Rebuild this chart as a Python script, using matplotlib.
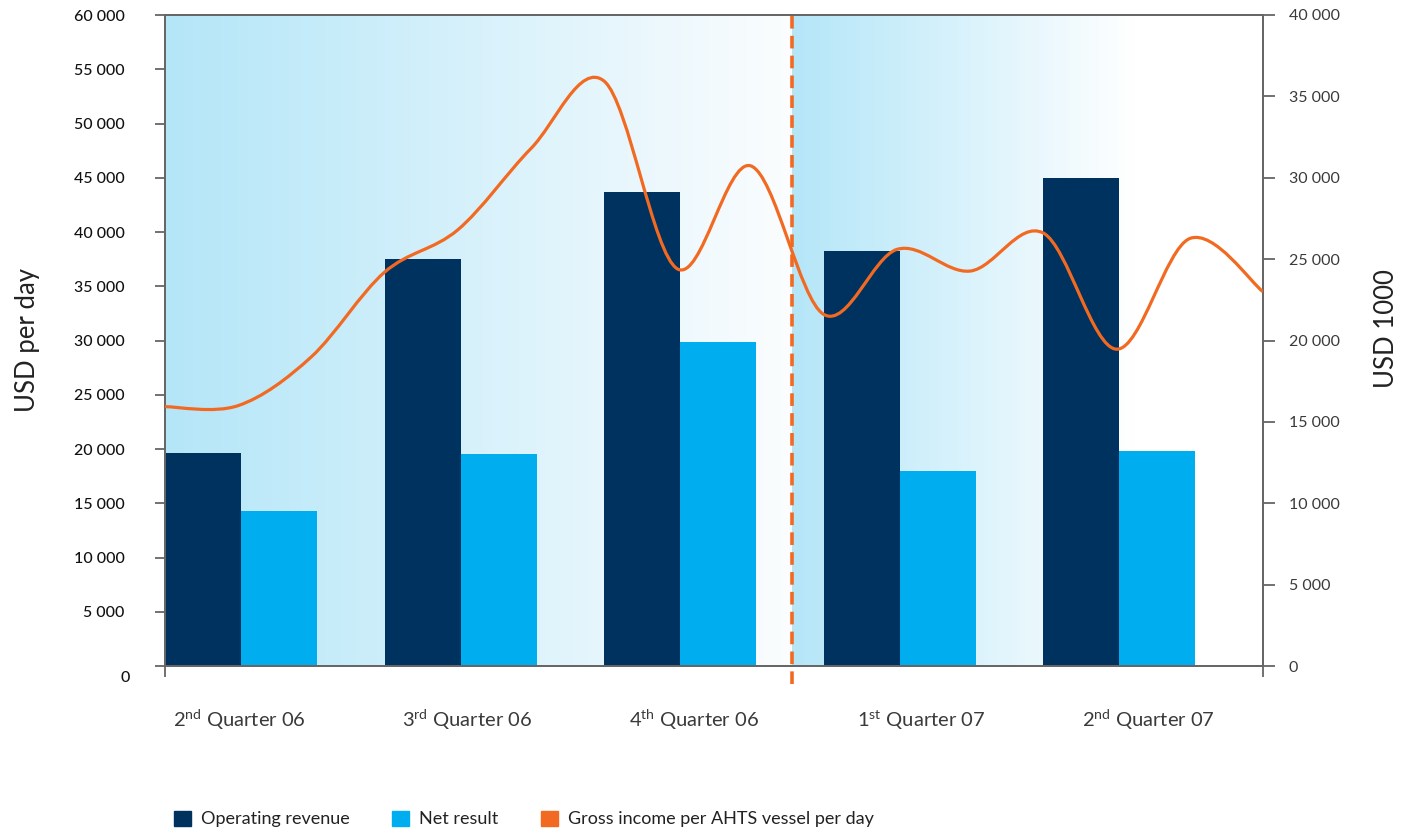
import numpy as np
import matplotlib.pyplot as plt
from matplotlib.path import Path
from matplotlib.patches import PathPatch, Patch
from matplotlib.colors import to_rgb

plt.rcParams['font.family'] = ['Lato', 'DejaVu Sans']
plt.rcParams['mathtext.fontset'] = 'custom'
plt.rcParams['mathtext.rm'] = 'Lato'

# data
quarters = [r"2$^{\mathrm{nd}}$ Quarter 06", r"3$^{\mathrm{rd}}$ Quarter 06",
            r"4$^{\mathrm{th}}$ Quarter 06", r"1$^{\mathrm{st}}$ Quarter 07",
            r"2$^{\mathrm{nd}}$ Quarter 07"]
operating_revenue = [13100, 25000, 29100, 25500, 30000]   # USD 1000
net_result = [9500, 13000, 19900, 12000, 13200]           # USD 1000
# gross income per AHTS vessel per day, monthly points (USD per day)
gross_income = [23900, 24000, 28500, 36300, 40200, 47700, 53900, 36600,
                46100, 32400, 38400, 36400, 39900, 29200, 39400, 34500]
left_ticks = list(range(0, 60001, 5000))
right_ticks = list(range(0, 40001, 5000))

navy = '#00325f'
cyan = '#00adee'
orange = '#f26a21'
pale = '#b4e6f8'

def fmt(v):
    return f"{v:,}".replace(',', ' ')

def smooth_path(xs, ys):
    # catmull-rom through the points, drawn as bezier segments
    pts = np.column_stack([xs, ys]).astype(float)
    n = len(pts)
    verts = [pts[0]]
    codes = [Path.MOVETO]
    for i in range(n - 1):
        p0 = pts[max(i - 1, 0)]
        p1 = pts[i]
        p2 = pts[i + 1]
        p3 = pts[min(i + 2, n - 1)]
        verts += [p1 + (p2 - p0) / 6, p2 - (p3 - p1) / 6, p2]
        codes += [Path.CURVE4] * 3
    return Path(verts, codes)

fig = plt.figure(figsize=(14.05, 8.34), dpi=100)
ax = fig.add_axes([165/1405, 1-666/834, 1098/1405, 651/834])  # bars, right axis
ax2 = ax.twinx()                                               # line, left axis

n = len(quarters)

# background gradients
split = 2.855
def gradient(x0, x1, c0, c1):
    t = np.linspace(0, 1, 256)
    a = np.array(to_rgb(c0)); b = np.array(to_rgb(c1))
    img = (a[None, :] * (1 - t[:, None]) + b[None, :] * t[:, None])[None, :, :]
    ax.imshow(img, extent=[x0, x1, 0, 40000], aspect='auto', zorder=0,
              interpolation='bilinear')
gradient(0, split, pale, '#fbfdfe')
gradient(split, 4.42, pale, '#ffffff')
ax.set_xlim(0, n)
ax.set_ylim(0, 40000)
ax2.set_ylim(0, 60000)

idx = np.arange(n)
w = 0.346
ax.bar(idx + w/2, operating_revenue, w, color=navy, zorder=2, linewidth=0)
ax.bar(idx + 1.5*w, net_result, w, color=cyan, zorder=2, linewidth=0)

# line on top
months = np.arange(len(gross_income)) / 3
ax2.add_patch(PathPatch(smooth_path(months, gross_income), facecolor='none',
                        edgecolor=orange, linewidth=2.3, zorder=3))
ax2.axvline(split, ymin=-0.027, ymax=1, color=orange, linewidth=2.6,
            dashes=(3.5, 2.0), clip_on=False, zorder=4)

# axes styling
ax.yaxis.tick_right()
ax2.yaxis.tick_left()
for a in (ax, ax2):
    for s in a.spines.values():
        s.set_color('#666666')
        s.set_linewidth(1.3)
ax.set_xticks([0, n])
ax.set_xticklabels([])
ax.tick_params(axis='x', direction='out', length=8, width=1.3, color='#666666')

ax.set_yticks(right_ticks)
ax.set_yticklabels([fmt(v) for v in right_ticks], fontsize=11.5,
                   color='#3a3a3a')
ax.tick_params(axis='y', direction='out', length=8.5, width=1.3,
               color='#666666', pad=10)

ax2.set_yticks(left_ticks)
ax2.set_yticklabels([fmt(v) if v else '' for v in left_ticks], fontsize=11.5,
                    color='#111111', fontweight='medium')
ax2.tick_params(axis='y', direction='out', length=7, width=1.3,
                color='#666666', pad=22)
ax2.text(-0.032, -0.019, '0', transform=ax2.transAxes, ha='right',
         va='center', fontsize=11.5, color='#111111', fontweight='medium')

# category labels
label_pos = idx + 0.34 + 0.035 * idx
for x, q in zip(label_pos, quarters):
    ax.text(x, -0.083, q, transform=ax.get_xaxis_transform(), ha='center',
            va='center', fontsize=14.5, color='#3a3a3a')

fig.text(28/1405, 1-340/834, 'USD per day', rotation=90, ha='center',
         va='center', fontsize=18.5, color='#222222')
fig.text(1386/1405, 1-329/834, 'USD 1000', rotation=90, ha='center',
         va='center', fontsize=18.5, color='#222222')

handles = [Patch(color=navy), Patch(color=cyan), Patch(color=orange)]
labels = ['Operating revenue', 'Net result', 'Gross income per AHTS vessel per day']
fig.legend(handles, labels, loc='center left', bbox_to_anchor=(174/1405, 1-819/834),
           ncol=3, frameon=False, fontsize=13, handlelength=0.95, handleheight=0.95,
           handletextpad=0.55, columnspacing=2.35, borderpad=0, borderaxespad=0,
           labelcolor='#222222')

fig.savefig('out.png', dpi=100)
